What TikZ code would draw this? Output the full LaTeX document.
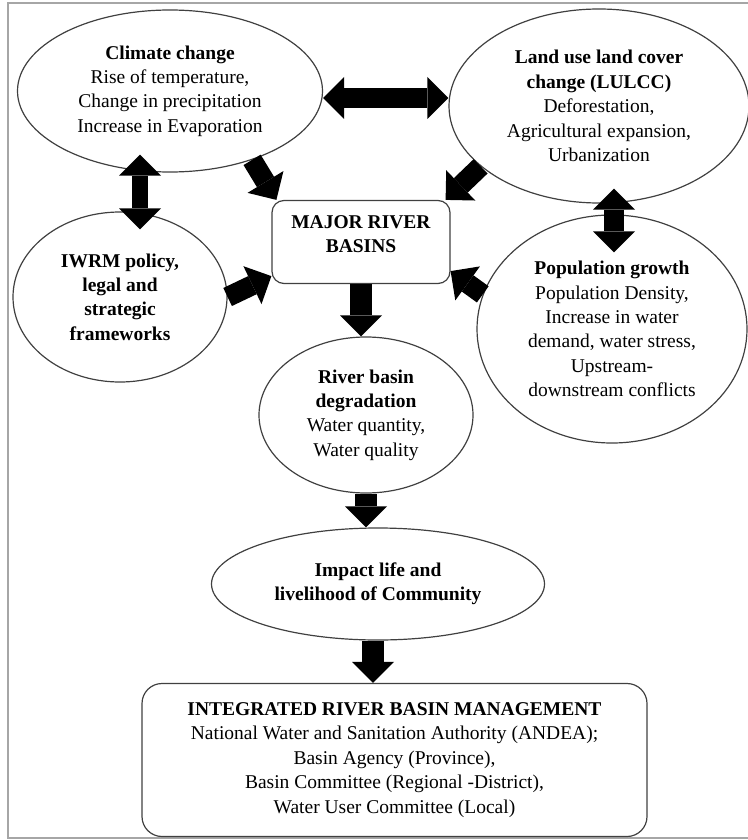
\documentclass[tikz,border=0pt]{standalone}
\usepackage{fontspec}
\setmainfont{Liberation Serif}
\usetikzlibrary{shapes.geometric,arrows.meta}

\tikzset{
	bubble/.style={draw=black!75, line width=0.6pt, ellipse, inner sep=0pt, align=center},
	panel/.style={draw=black!75, line width=0.6pt, rectangle, rounded corners=#1, inner sep=0pt, align=center},
	panel/.default=6pt,
	fathead/.tip={Triangle[width=21pt,length=10.5pt,line width=0pt]},
	fatarrow/.style={line width=10pt, -fathead},
	fatboth/.style={line width=10pt, fathead-fathead},
}

\begin{document}
\begin{tikzpicture}[x=0.5pt, y=-0.5pt, font=\fontsize{9.75}{12.2}\selectfont]
		\useasboundingbox (0,0) rectangle (748,840);
		\draw[gray!70, line width=0.8pt] (748,3) -- (8,3) -- (8,838) -- (748,838);	% Moldura
		
		% Elementos
		\node[bubble, minimum width=152.5pt, minimum height=81pt] (clim) at (170,91)
			{\textbf{Climate change}\\Rise of temperature,\\Change in precipitation\\Increase in Evaporation};
		\node[bubble, minimum width=150pt, minimum height=97pt] (lulcc) at (599,106)
			{\textbf{Land use land cover}\\\textbf{change (LULCC)}\\Deforestation,\\Agricultural expansion,\\Urbanization};
		\node[bubble, minimum width=107pt, minimum height=85pt] (iwrm) at (120,297)
			{\textbf{IWRM policy,}\\\textbf{legal and}\\\textbf{strategic}\\\textbf{frameworks}};
		\node[panel, minimum width=89pt, minimum height=41.5pt] (mrb) at (361,242)
			{\textbf{MAJOR RIVER}\\\textbf{BASINS}\\[-4pt]\mbox{}};
		\node[bubble, minimum width=135pt, minimum height=114pt] (pop) at (612,329)
			{\textbf{Population growth}\\Population Density,\\Increase in water\\demand, water stress,\\Upstream-\\downstream conflicts};
		\node[bubble, minimum width=107pt, minimum height=78pt] (rbd) at (366,415)
			{\textbf{River basin}\\\textbf{degradation}\\Water quantity,\\Water quality};
		\node[bubble, minimum width=166.5pt, minimum height=56pt] (imp) at (378,584)
			{\textbf{Impact life and}\\\textbf{livelihood of Community}};
		\node[panel=10pt, minimum width=252.5pt, minimum height=76.5pt] (irbm) at (394.5,760)
			{\textbf{INTEGRATED RIVER BASIN MANAGEMENT}\\National Water and Sanitation Authority (ANDEA);\\Basin Agency (Province),\\Basin Committee (Regional -District),\\Water User Committee (Local)};
		
		% Setas
		\draw[fatboth] ([yshift=-3.5pt]clim.east) -- ([yshift=4pt]lulcc.west);
		\draw[fatboth, line width=8pt] ([xshift=-15pt,yshift=9pt]clim.south) -- ([xshift=10pt,yshift=-9pt]iwrm.north);
		\draw[fatboth] ([xshift=7.5pt,yshift=7.5pt]lulcc.south) -- ([xshift=1pt,yshift=-19pt]pop.north);
		\draw[fatarrow] (clim.-40) -- ([xshift=2.5pt]mrb.north west);
		\draw[fatarrow] (lulcc.207) -- ([xshift=-2.5pt]mrb.north east);
		\draw[fatarrow] (iwrm.east) -- ([yshift=4pt]mrb.south west);
		\draw[fatarrow] (pop.165) -- ([yshift=6.5pt]mrb.south east);
		\draw[fatarrow, line width=11pt] (mrb.south) -- (mrb.south |- rbd.north);
		\draw[fatarrow, line width=11pt] (rbd.south) -- (rbd.south |- imp.north);
		\draw[fatarrow, line width=11pt] ([xshift=-2.5pt]imp.south) -- ([xshift=-2.5pt]imp.south |- irbm.north);
	\end{tikzpicture}
\end{document}
